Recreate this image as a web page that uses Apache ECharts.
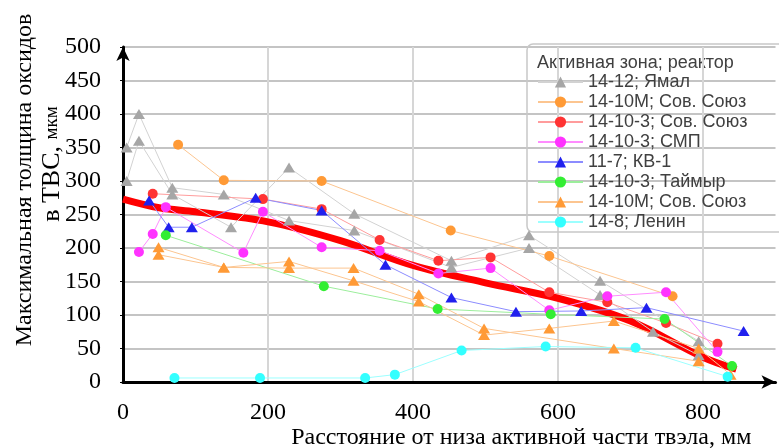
<!DOCTYPE html>
<html>
<head>
<meta charset="utf-8">
<script src="https://cdn.jsdelivr.net/npm/echarts@6/dist/echarts.min.js"></script>
<style>
html, body { margin: 0; padding: 0; background: #fff; }
#chart { width: 779px; height: 448px; }
</style>
</head>
<body>
<div id="chart"></div>
<script>
// точки [расстояние, мм ; толщина, мкм]
var yamalA = [[5,350],[22,400],[68,290],[139,280],[229,241],[319,226],[453,171],[560,200],[658,130],[731,75],[794,40]];
var yamalB = [[5,300],[22,360],[68,280],[149,231],[229,320],[319,251],[453,181],[560,219],[658,151],[794,61]];
var sovCircle = [[76,354],[139,301],[274,300],[452,226],[588,188],[758,128]];
var sovRed = [[41,281],[193,273],[274,258],[354,212],[435,181],[507,186],[588,134],[668,119],[749,88],[820,57]];
var smp = [[22,194],[41,221],[59,261],[166,193],[193,254],[274,201],[354,196],[435,162],[507,170],[588,107],[668,128],[749,134],[820,45]];
var kv1 = [[36,271],[63,231],[95,231],[183,275],[274,256],[362,175],[453,126],[542,105],[632,106],[722,111],[856,76]];
var taimyr = [[59,219],[277,143],[434,109],[590,101],[747,94],[840,24]];
var sovTriA = [[49,201],[139,171],[229,180],[318,151],[408,120],[498,70],[588,80],[677,91],[794,50],[838,11]];
var sovTriB = [[49,190],[139,171],[229,170],[318,170],[408,131],[498,80],[677,50],[794,31]];
var lenin = [[71,6],[189,6],[334,6],[375,11],[467,47],[583,53],[707,51],[834,8]];
// аппроксимирующая кривая
var trend = [[0,273],[50,260],[100,254],[200,239],[300,211],[400,174],[500,148],[600,125],[700,91],[800,37],[846,19]];

var names = ['14-12; Ямал', '14-10M; Сов. Союз', '14-10-3; Сов. Союз', '14-10-3; СМП',
             '11-7; КВ-1', '14-10-3; Таймыр', '14-10M; Сов. Союз ', '14-8; Ленин'];

var myChart = echarts.init(document.getElementById('chart'));

function mk(name, data, symbol, color, lineColor) {
    return {
        name: name,
        type: 'line',
        data: data,
        symbol: symbol,
        symbolSize: symbol === 'triangle' ? [12, 10] : 10,
        itemStyle: { color: color },
        lineStyle: { color: lineColor, width: 1 },
        emphasis: { disabled: true },
        z: 3
    };
}

var serif = 'Liberation Serif';

myChart.setOption({
    animation: false,
    grid: { left: 123, right: 3.5, top: 47, bottom: 66, outerBoundsMode: 'none' },
    legend: {
        orient: 'vertical',
        left: 532,
        top: 68,
        itemWidth: 45,
        itemHeight: 14,
        itemGap: 2,
        selectedMode: false,
        data: names,
        textStyle: { fontFamily: 'Liberation Sans', fontSize: 18, color: '#404040', lineHeight: 17 }
    },
    xAxis: {
        type: 'value',
        min: 0,
        max: 900,
        interval: 200,
        axisLine: { lineStyle: { color: '#000', width: 3 }, symbol: ['none', 'arrow'], symbolSize: [10, 14] },
        axisTick: { show: false },
        axisLabel: { fontFamily: serif, fontSize: 24, color: '#000', margin: 19, showMaxLabel: false },
        splitLine: { show: true, showMaxLine: false, lineStyle: { color: '#d6d6d6', width: 2 } },
        name: 'Расстояние от низа активной части твэла, мм',
        nameLocation: 'middle',
        nameMoveOverlap: false,
        nameGap: 44,
        nameTextStyle: { fontFamily: serif, fontSize: 24, color: '#000', padding: [0, 0, 0, 144] }
    },
    yAxis: {
        type: 'value',
        min: 0,
        max: 500,
        interval: 50,
        axisLine: { show: true, lineStyle: { color: '#000', width: 3 }, symbol: ['none', 'arrow'], symbolSize: [10, 14] },
        axisTick: { show: true, length: 3, lineStyle: { color: '#000' } },
        axisLabel: { fontFamily: serif, fontSize: 24, color: '#000', margin: 22 },
        splitLine: { lineStyle: { color: '#c4c4c4', width: 2 } }
    },
    graphic: [
        {
            type: 'rect',
            shape: { x: 527, y: 44, width: 262, height: 188, r: 6 },
            style: { fill: 'rgba(0,0,0,0)', stroke: '#c8c8c8', lineWidth: 1.5 },
            z: 1
        },
        {
            type: 'text',
            left: 537, top: 54,
            style: { text: 'Активная зона; реактор', font: '18px "Liberation Sans"', fill: '#404040' }
        },
        {
            type: 'text',
            x: 25, y: 180, rotation: Math.PI / 2,
            style: { text: 'Максимальная толщина оксидов', font: '24px "Liberation Serif"', fill: '#000',
                     align: 'center', verticalAlign: 'middle' }
        },
        {
            type: 'text',
            x: 52, y: 164, rotation: Math.PI / 2,
            style: {
                text: '{a|в ТВС, }{b|мкм}',
                align: 'center', verticalAlign: 'middle',
                rich: {
                    a: { fontFamily: serif, fontSize: 26, fill: '#000', color: '#000' },
                    b: { fontFamily: serif, fontSize: 19, fill: '#000', color: '#000' }
                }
            }
        }
    ],
    series: [
        {
            type: 'line',
            data: trend,
            smooth: 0.35,
            symbol: 'none',
            lineStyle: { color: '#ff0000', width: 7 },
            emphasis: { disabled: true },
            z: 2
        },
        mk(names[0], yamalA, 'triangle', '#a6a6a6', '#d2d2d2'),
        mk(names[0], yamalB, 'triangle', '#a6a6a6', '#d2d2d2'),
        mk(names[1], sovCircle, 'circle', '#ff9a36', '#fcc590'),
        mk(names[2], sovRed, 'circle', '#ff3333', '#ff9c9c'),
        mk(names[3], smp, 'circle', '#ff33ff', '#ff8cff'),
        mk(names[4], kv1, 'triangle', '#2020ee', '#8c8cff'),
        mk(names[5], taimyr, 'circle', '#33ee33', '#9cee9c'),
        mk(names[6], sovTriA, 'triangle', '#ff9a36', '#fcc590'),
        mk(names[6], sovTriB, 'triangle', '#ff9a36', '#fcc590'),
        mk(names[7], lenin, 'circle', '#33ffff', '#9cffff')
    ]
});
</script>
</body>
</html>
